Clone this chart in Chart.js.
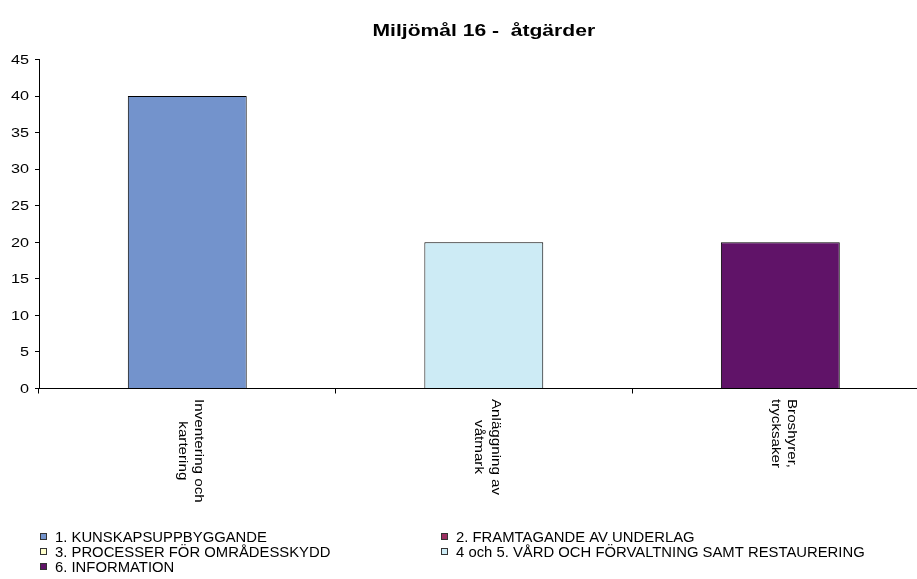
<!DOCTYPE html>
<html>
<head>
<meta charset="utf-8">
<script src="https://cdn.jsdelivr.net/npm/chart.js@4.4.1/dist/chart.umd.min.js"></script>
<style>
  html, body { margin: 0; padding: 0; background: #fff; overflow: hidden; }
  #wrap { position: relative; width: 967px; height: 579px; }
</style>
</head>
<body>
<div id="wrap"><canvas id="c" width="967" height="579"></canvas></div>
<script>
// ---- data ----
const chartTitle = "Miljömål 16 -  åtgärder";
const categories = [["Inventering och", "kartering"], ["Anläggning av", "våtmark"], ["Broshyrer,", "trycksaker"]];
const seriesNames = [
  "1. KUNSKAPSUPPBYGGANDE",
  "2. FRAMTAGANDE AV UNDERLAG",
  "3. PROCESSER FÖR OMRÅDESSKYDD",
  "4 och 5. VÅRD OCH FÖRVALTNING SAMT RESTAURERING",
  "6. INFORMATION"
];
const kunskapsuppbyggande = [40, null, null];
const framtagande = [null, null, null];
const processer = [null, null, null];
const vardForvaltning = [null, 20, null];
const information = [null, null, 20];
const yMin = 0, yMax = 45, yStep = 5;

const seriesColors = ["#7393CC", "#9B2F61", "#FFFFCC", "#CDEBF5", "#601368"];
const seriesValues = [kunskapsuppbyggande, framtagande, processer, vardForvaltning, information];

const FONT = "'Liberation Sans', Arial, sans-serif";

function stretchText(ctx, text, x, y, font, align, baseline, sx) {
  ctx.save();
  ctx.translate(x, y);
  ctx.scale(sx, 1);
  ctx.font = font;
  ctx.textAlign = align;
  ctx.textBaseline = baseline;
  ctx.fillStyle = "#000";
  ctx.fillText(text, 0, 0);
  ctx.restore();
}

const textPlugin = {
  id: "textPlugin",
  afterDraw(chart) {
    const ctx = chart.ctx;
    const area = chart.chartArea;
    const xs = chart.scales.x, ys = chart.scales.y;

    // title
    stretchText(ctx, chartTitle, (area.left + area.right) / 2, 36,
      "bold 17px " + FONT, "center", "alphabetic", 1.24);

    // y tick labels
    const yf = 12;
    ys.ticks.forEach((t, i) => {
      const py = ys.getPixelForTick(i);
      stretchText(ctx, String(t.value), 29, py + 0.358 * yf,
        yf + "px " + FONT, "right", "alphabetic", 1.35);
    });

    // x category labels, rotated clockwise
    const xf = 13.3, pitch = 16.7, sx = 1.14;
    categories.forEach((lines, i) => {
      const cx = xs.getPixelForTick(i) + 3;
      ctx.save();
      ctx.font = xf + "px " + FONT;
      const maxW = Math.max(...lines.map(l => ctx.measureText(l).width));
      ctx.translate(cx, 399);
      ctx.rotate(Math.PI / 2);
      ctx.scale(sx, 1);
      ctx.textAlign = "center";
      ctx.textBaseline = "alphabetic";
      ctx.fillStyle = "#000";
      const n = lines.length;
      lines.forEach((l, j) => {
        const yr = -(((n - 1) / 2) - j) * pitch + 0.253 * xf;
        ctx.fillText(l, maxW / 2, yr);
      });
      ctx.restore();
    });

    // legend (two columns)
    const lf = 14;
    const colX = [40, 441];
    const rowY = [537, 552, 567];
    chart.data.datasets.forEach((ds, i) => {
      const col = i % 2, row = Math.floor(i / 2);
      const mx = colX[col], my = rowY[row];
      ctx.save();
      ctx.fillStyle = ds.backgroundColor;
      ctx.fillRect(mx, my - 4, 7, 7);
      ctx.strokeStyle = "#333";
      ctx.lineWidth = 1;
      ctx.strokeRect(mx + 0.5, my - 3.5, 6, 6);
      ctx.restore();
      stretchText(ctx, ds.label, mx + 15, my + 0.358 * lf, lf + "px " + FONT, "left", "alphabetic", 1.06);
    });
  }
};

new Chart(document.getElementById("c"), {
  type: "bar",
  data: {
    labels: categories,
    datasets: seriesNames.map((name, i) => ({
      label: name,
      data: seriesValues[i],
      backgroundColor: seriesColors[i],
      borderColor: "#000",
      borderWidth: 1,
      categoryPercentage: 1,
      barPercentage: 0.401
    }))
  },
  options: {
    responsive: false,
    animation: false,
    devicePixelRatio: 1,
    layout: { padding: { top: 59.5, left: 0, right: 38.4, bottom: 0 } },
    plugins: {
      legend: { display: false },
      title: { display: false },
      tooltip: { enabled: false }
    },
    scales: {
      x: {
        stacked: true,
        offset: true,
        grid: { display: true, drawOnChartArea: false, drawTicks: true, tickLength: 5, color: "#000", offset: true },
        border: { display: true, color: "#000", width: 1 },
        ticks: { display: false },
        afterFit: s => { s.height = 190.5; }
      },
      y: {
        stacked: true,
        min: yMin,
        max: yMax,
        grid: { display: true, drawOnChartArea: false, drawTicks: true, tickLength: 4, color: "#000" },
        border: { display: true, color: "#000", width: 1 },
        ticks: { stepSize: yStep, display: false },
        afterFit: s => { s.width = 39; }
      }
    }
  },
  plugins: [textPlugin]
});
</script>
</body>
</html>
